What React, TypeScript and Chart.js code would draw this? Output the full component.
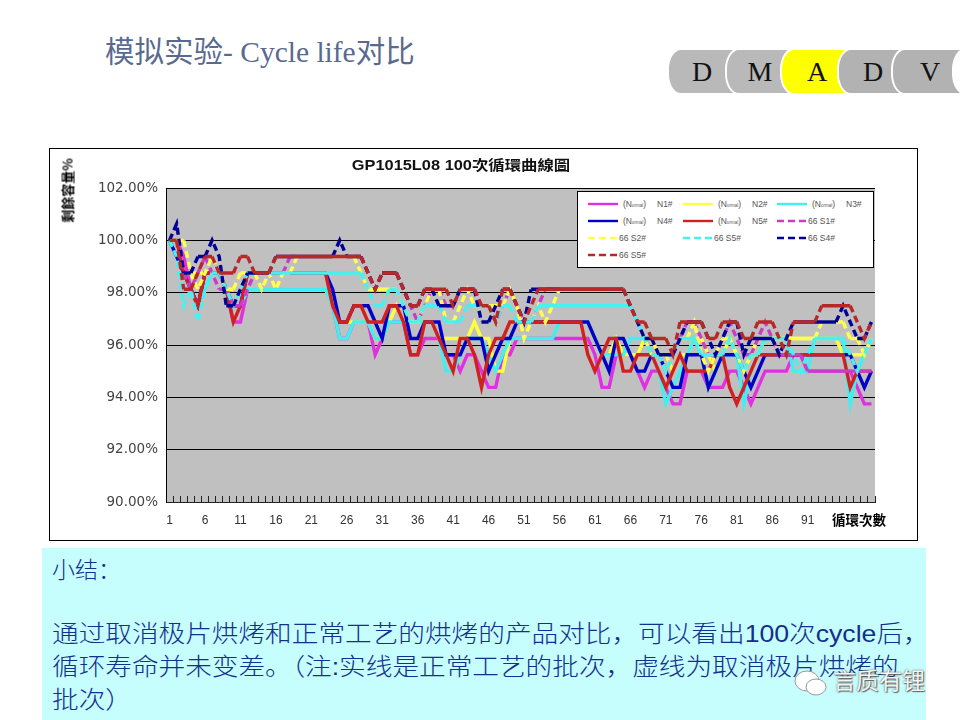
import { useEffect, useRef } from "react";
import { Chart, registerables } from "chart.js";

Chart.register(...registerables);

const cycles = Array.from({ length: 100 }, (_, i) => String(i + 1));
const yTicks = [90, 92, 94, 96, 98, 100, 102];

const n1 = [
  100, 100, 99.38, 98.13, 97.5, 98.75, 98.75, 98.75, 98.13, 96.88,
  96.88, 98.13, 98.13, 98.13, 98.13, 98.13, 98.13, 98.13, 98.13, 98.13,
  98.13, 98.13, 98.13, 97.5, 96.25, 96.25, 96.88, 96.88, 96.88, 95.63,
  96.25, 96.88, 96.88, 96.88, 95.63, 95.63, 96.25, 96.25, 96.25, 95.63,
  95.63, 95, 95.63, 95.63, 95, 94.38, 94.38, 95.63, 95.63, 96.25,
  96.25, 96.25, 96.25, 96.25, 96.25, 96.25, 96.25, 96.25, 96.25, 96.25,
  95.63, 94.38, 94.38, 95.63, 95.63, 95.63, 95, 94.38, 95, 95,
  94.38, 93.75, 93.75, 95, 95, 95, 94.38, 94.38, 94.38, 95,
  95, 94.38, 93.75, 94.38, 95, 95, 95, 95, 95.63, 95.63,
  95, 95, 95, 95, 95, 95, 95, 94.38, 93.75, 93.75,
];
const n2 = [
  100, 100, 98.75, 98.75, 98.75, 98.75, 98.75, 98.75, 98.13, 97.5,
  97.5, 98.13, 98.13, 98.13, 98.13, 98.13, 98.13, 98.13, 98.13, 98.13,
  98.13, 98.13, 98.13, 97.5, 96.88, 96.88, 96.88, 96.88, 96.88, 96.25,
  96.25, 96.88, 97.5, 96.88, 96.88, 96.88, 96.88, 96.88, 96.25, 96.25,
  96.25, 96.25, 96.25, 96.88, 96.25, 96.25, 95, 95, 96.25, 96.88,
  96.88, 96.88, 96.88, 96.88, 96.88, 96.88, 96.88, 96.88, 96.88, 96.88,
  96.25, 95.63, 95.63, 96.25, 95.63, 95.63, 95.63, 96.25, 96.25, 95.63,
  95.63, 95, 95.63, 95.63, 96.25, 96.25, 95.63, 95, 95.63, 96.25,
  95.63, 95, 95.63, 96.25, 96.25, 96.25, 96.25, 96.25, 96.25, 96.25,
  96.25, 96.25, 96.25, 96.25, 96.25, 95.63, 95.63, 95.63, 95.63, 96.25,
];
const n3 = [
  100, 99.38, 98.75, 98.13, 97.5, 98.13, 98.75, 98.75, 98.13, 97.5,
  97.5, 98.13, 98.13, 98.13, 98.13, 98.13, 98.13, 98.13, 98.13, 98.13,
  98.13, 98.13, 98.13, 97.5, 96.25, 96.25, 96.88, 96.88, 96.88, 96.25,
  96.25, 96.88, 96.88, 96.88, 96.88, 96.88, 96.88, 96.88, 96.25, 95,
  95, 95.63, 96.25, 96.25, 96.25, 95.63, 95, 95.63, 96.25, 96.25,
  96.25, 96.25, 96.25, 96.25, 96.25, 96.88, 96.88, 96.88, 96.88, 96.88,
  96.25, 95.63, 95.63, 95.63, 95.63, 96.25, 96.25, 96.25, 95.63, 95,
  93.75, 94.38, 95, 95.63, 96.25, 95.63, 94.38, 95, 95.63, 95.63,
  95.63, 93.75, 95, 95.63, 96.25, 96.25, 96.25, 96.25, 95, 95,
  95, 96.25, 96.25, 96.25, 96.25, 96.25, 93.75, 95, 95.63, 96.25,
];
const n4 = [
  100, 99.38, 98.75, 98.13, 97.5, 98.75, 98.75, 98.75, 98.13, 97.5,
  97.5, 98.75, 98.75, 98.75, 98.75, 98.75, 98.75, 98.75, 98.75, 98.75,
  98.75, 98.75, 98.75, 98.13, 96.88, 96.88, 97.5, 97.5, 97.5, 96.88,
  96.25, 97.5, 97.5, 97.5, 96.25, 96.25, 96.88, 96.88, 96.88, 95.63,
  95.63, 95.63, 96.25, 96.25, 96.25, 95, 95.63, 96.25, 96.25, 96.88,
  96.88, 96.88, 96.88, 96.88, 96.88, 96.88, 96.88, 96.88, 96.88, 96.88,
  96.25, 95.63, 95, 96.25, 96.25, 95.63, 95, 95, 95.63, 95.63,
  95, 94.38, 94.38, 95.63, 95.63, 95.63, 94.38, 95, 95.63, 95.63,
  95.63, 95, 94.38, 95, 95.63, 95.63, 95.63, 95.63, 95.63, 95.63,
  95.63, 95.63, 95.63, 95.63, 95.63, 95.63, 95.63, 95, 94.38, 95,
];
const n5 = [
  100, 100, 98.75, 98.13, 97.5, 98.75, 98.75, 98.75, 98.13, 96.88,
  97.5, 98.75, 98.75, 98.75, 98.75, 98.75, 98.75, 98.75, 98.75, 98.75,
  98.75, 98.75, 98.75, 97.5, 96.88, 96.88, 97.5, 97.5, 96.88, 96.88,
  96.88, 97.5, 97.5, 96.88, 95.63, 95.63, 96.88, 96.88, 96.25, 95.63,
  95, 96.25, 96.25, 95.63, 94.38, 95.63, 96.25, 96.25, 96.88, 96.88,
  96.88, 96.88, 96.88, 96.88, 96.88, 96.88, 96.88, 96.88, 96.88, 95.63,
  95, 95.63, 96.25, 96.25, 95, 95, 95.63, 95.63, 95.63, 95,
  94.38, 95, 95.63, 95, 95, 95, 95, 95.63, 95.63, 94.38,
  93.75, 94.38, 95, 95.63, 95.63, 95.63, 95.63, 95.63, 95.63, 95.63,
  95.63, 95.63, 95.63, 95.63, 95.63, 95.63, 94.38, 95, 95, 95,
];
const s1 = [
  100, 100, 98.75, 98.13, 98.75, 99.38, 98.75, 98.13, 98.13, 97.5,
  97.5, 98.13, 98.75, 98.75, 98.75, 98.75, 98.75, 99.38, 99.38, 99.38,
  99.38, 99.38, 99.38, 99.38, 99.38, 99.38, 99.38, 99.38, 98.75, 98.13,
  98.75, 98.75, 98.75, 98.13, 97.5, 96.88, 97.5, 98.13, 98.13, 97.5,
  97.5, 98.13, 98.13, 98.13, 97.5, 97.5, 96.88, 97.5, 98.13, 97.5,
  96.88, 96.88, 97.5, 98.13, 98.13, 98.13, 98.13, 98.13, 98.13, 98.13,
  98.13, 98.13, 98.13, 98.13, 98.13, 97.5, 96.88, 96.25, 95.63, 95.63,
  95, 95.63, 96.25, 96.88, 96.88, 96.25, 95.63, 95.63, 96.25, 96.88,
  96.25, 95.63, 95.63, 96.25, 96.88, 96.25, 95.63, 95.63, 95.63, 95.63,
  95, 95, 95, 95, 95, 95, 95, 95, 95, 95,
];
const s2 = [
  100, 100, 100, 98.75, 98.13, 98.75, 99.38, 98.75, 98.13, 98.13,
  98.75, 98.75, 98.75, 98.13, 98.75, 98.13, 98.75, 98.75, 99.38, 99.38,
  99.38, 99.38, 99.38, 99.38, 99.38, 99.38, 99.38, 98.75, 98.13, 98.13,
  98.13, 98.13, 98.13, 97.5, 96.88, 96.88, 97.5, 98.13, 98.13, 96.88,
  96.88, 97.5, 98.13, 97.5, 97.5, 97.5, 97.5, 97.5, 98.13, 97.5,
  96.25, 96.88, 97.5, 96.88, 97.5, 98.13, 98.13, 98.13, 98.13, 98.13,
  98.13, 98.13, 98.13, 98.13, 98.13, 97.5, 96.88, 96.25, 95.63, 95.63,
  95, 95.63, 96.25, 96.25, 96.88, 95.63, 95, 95.63, 96.25, 96.25,
  95.63, 95, 95.63, 95.63, 96.25, 96.25, 96.25, 96.25, 96.25, 96.25,
  96.25, 96.25, 96.88, 96.88, 96.88, 96.88, 96.25, 96.25, 95.63, 96.25,
];
const s3 = [
  100, 99.38, 97.5, 98.13, 96.88, 98.13, 98.75, 98.75, 98.13, 97.5,
  98.13, 98.75, 98.75, 98.75, 98.75, 98.75, 98.75, 98.75, 98.75, 98.75,
  98.75, 98.75, 98.75, 98.75, 98.75, 98.75, 98.75, 98.75, 98.13, 97.5,
  97.5, 98.13, 98.13, 97.5, 96.88, 96.88, 97.5, 97.5, 97.5, 96.88,
  96.88, 96.88, 97.5, 97.5, 97.5, 97.5, 96.88, 97.5, 97.5, 96.88,
  96.88, 96.88, 97.5, 97.5, 97.5, 97.5, 97.5, 97.5, 97.5, 97.5,
  97.5, 97.5, 97.5, 97.5, 97.5, 97.5, 96.88, 96.25, 95.63, 95.63,
  95, 95.63, 96.25, 96.25, 96.25, 95.63, 95.63, 95.63, 95.63, 96.25,
  95.63, 95, 95.63, 95.63, 96.25, 96.25, 96.25, 96.25, 95.63, 95,
  95.63, 96.25, 96.25, 96.25, 96.25, 96.25, 95.63, 95, 95.63, 96.25,
];
const s4 = [
  100, 100.63, 98.75, 98.75, 99.38, 99.38, 100, 99.38, 97.5, 97.5,
  98.13, 98.75, 98.75, 98.75, 98.75, 99.38, 99.38, 99.38, 99.38, 99.38,
  99.38, 99.38, 99.38, 99.38, 100, 99.38, 99.38, 99.38, 98.75, 98.13,
  98.75, 98.75, 98.75, 98.13, 97.5, 97.5, 98.13, 98.13, 97.5, 97.5,
  97.5, 98.13, 98.13, 98.13, 96.88, 96.88, 97.5, 98.13, 98.13, 97.5,
  96.88, 98.13, 98.13, 98.13, 98.13, 98.13, 98.13, 98.13, 98.13, 98.13,
  98.13, 98.13, 98.13, 98.13, 98.13, 97.5, 96.88, 96.25, 96.25, 95.63,
  95.63, 95.63, 96.25, 96.88, 96.88, 96.88, 96.25, 95.63, 96.25, 96.88,
  96.88, 95.63, 96.25, 96.25, 96.25, 96.25, 95.63, 96.25, 96.88, 96.88,
  96.88, 96.88, 96.88, 96.88, 96.88, 97.5, 96.88, 96.25, 96.25, 96.88,
];
const s5 = [
  100, 100, 98.13, 98.13, 98.75, 99.38, 99.38, 98.75, 98.75, 98.75,
  99.38, 99.38, 98.75, 98.75, 98.75, 99.38, 99.38, 99.38, 99.38, 99.38,
  99.38, 99.38, 99.38, 99.38, 99.38, 99.38, 99.38, 99.38, 98.75, 98.13,
  98.75, 98.75, 98.75, 98.13, 97.5, 97.5, 98.13, 98.13, 98.13, 98.13,
  97.5, 98.13, 98.13, 98.13, 97.5, 97.5, 96.88, 98.13, 98.13, 97.5,
  96.88, 97.5, 98.13, 98.13, 98.13, 98.13, 98.13, 98.13, 98.13, 98.13,
  98.13, 98.13, 98.13, 98.13, 98.13, 97.5, 96.88, 96.88, 96.25, 96.25,
  96.25, 95.63, 96.88, 96.88, 96.88, 96.88, 96.25, 96.25, 96.88, 96.88,
  96.88, 96.25, 96.25, 96.88, 96.88, 96.88, 96.25, 95.63, 96.88, 96.88,
  96.88, 96.88, 97.5, 97.5, 97.5, 97.5, 97.5, 96.88, 96.25, 96.88,
];

const seriesData = [n1, n2, n3, n4, n5, s1, s2, s3, s4, s5];
const seriesColors = ["#e030e0", "#ffff40", "#40f0f0", "#0000c8", "#d02020", "#c83cc8", "#ffff50", "#48f0f0", "#000098", "#b82828"];
const legendLabels = ["N1#", "N2#", "N3#", "N4#", "N5#", "66 S1#", "66 S2#", "66 S5#", "66 S4#", "66 S5#"];
// legend cell order in the box, left to right, top to bottom
const legendLeft = [588, 683, 777];
const legendTop = [204, 221, 238, 255];

const tabs = [
  { text: "D", left: 667, width: 66, bg: "#b9b9b9" },
  { text: "M", left: 725, width: 66, bg: "#b9b9b9" },
  { text: "A", left: 780, width: 70, bg: "#ffff00" },
  { text: "D", left: 837, width: 68, bg: "#b2b2b2" },
  { text: "V", left: 891, width: 74, bg: "#b2b2b2" },
  { text: "", left: 952, width: 40, bg: "#fff" },
];

const summaryLines = [
  { text: "小结：", top: 555, size: 23, stretch: 1 },
  { text: "通过取消极片烘烤和正常工艺的烘烤的产品对比，可以看出100次cycle后，", top: 619, size: 24, stretch: 1.11 },
  { text: "循环寿命并未变差。（注:实线是正常工艺的批次，虚线为取消极片烘烤的", top: 652, size: 24, stretch: 1.11 },
  { text: "批次）", top: 685, size: 24, stretch: 1.11 },
];

const plotBackground = {
  id: "plotBackground",
  beforeDraw(chart: Chart) {
    const { ctx, chartArea } = chart;
    ctx.save();
    ctx.fillStyle = "#c0c0c0";
    ctx.fillRect(chartArea.left, chartArea.top, chartArea.width, chartArea.height);
    ctx.restore();
  },
};

export default function App() {
  const canvasRef = useRef<HTMLCanvasElement | null>(null);

  useEffect(() => {
    if (!canvasRef.current) return;
    const chart = new Chart(canvasRef.current, {
      type: "line",
      data: {
        labels: cycles,
        datasets: seriesData.map((data, i) => ({
          label: legendLabels[i],
          data,
          borderColor: seriesColors[i],
          backgroundColor: seriesColors[i],
          borderWidth: 3.4,
          pointRadius: 0,
          tension: 0,
          // later series sit on top of earlier ones
          order: seriesData.length - i,
          // the dash restarts at every point in the original, so flat runs look solid
          segment:
            i >= 5
              ? { borderDash: (ctx: any) => (ctx.p0.parsed.y === ctx.p1.parsed.y ? [] : [7, 4]) }
              : undefined,
        })),
      },
      options: {
        animation: false,
        responsive: false,
        layout: { padding: { left: 0, right: 42, top: 39, bottom: 0 } },
        plugins: { legend: { display: false }, title: { display: false }, tooltip: { enabled: false } },
        scales: {
          x: {
            offset: true,
            afterFit: (scale: any) => {
              scale.height = 38;
            },
            grid: { offset: true, drawOnChartArea: false, color: "#222", tickLength: -6 },
            border: { color: "#222" },
            ticks: {
              autoSkip: false,
              maxRotation: 0,
              padding: 17,
              color: "#333",
              font: { family: "Liberation Sans", size: 12 },
              callback: (_v: any, index: number) => (index % 5 === 0 && index < 95 ? cycles[index] : ""),
            },
          },
          y: {
            min: yTicks[0],
            max: yTicks[yTicks.length - 1],
            afterFit: (scale: any) => {
              scale.width = 116;
            },
            afterBuildTicks: (scale: any) => {
              scale.ticks = yTicks.map((value) => ({ value }));
            },
            grid: { color: "#000", lineWidth: 1, drawTicks: false },
            border: { color: "#000" },
            ticks: {
              padding: 8,
              color: "#444",
              font: { family: "DejaVu Sans", size: 13.5 },
              callback: (v: any) => `${Number(v).toFixed(2)}%`,
            },
          },
        },
      },
      plugins: [plotBackground],
    });
    return () => chart.destroy();
  }, []);

  return (
    <div style={{ position: "fixed", left: 0, top: 0, width: 960, height: 720, overflow: "hidden", background: "#fff" }}>
      <div style={{ position: "absolute", left: 105, top: 28, fontSize: 29.5, color: "#5a6a8e", whiteSpace: "nowrap", fontFamily: "'Liberation Serif', 'Noto Sans CJK SC'" }}>
        模拟实验- Cycle life对比
      </div>

      {tabs.map((tab) => (
        <div
          key={tab.left}
          style={{
            position: "absolute",
            left: tab.left,
            top: 48,
            width: tab.width,
            height: 43,
            background: tab.bg,
            border: "2px solid #fff",
            borderRadius: "14px 0 0 14px / 21px 0 0 21px",
            textAlign: "center",
            lineHeight: "43px",
            fontSize: 28,
            color: "#111",
            fontFamily: "Liberation Serif",
          }}
        >
          {tab.text}
        </div>
      ))}

      <div style={{ position: "absolute", left: 49, top: 148, width: 867, height: 391, border: "1px solid #000", background: "#fff" }}>
        <canvas ref={canvasRef} width={867} height={391} style={{ display: "block" }} />
      </div>
      <div style={{ position: "absolute", left: 261, width: 400, top: 154, textAlign: "center", fontSize: 14, fontWeight: "bold", color: "#111", transform: "scaleX(1.17)", fontFamily: "'Liberation Sans', 'Noto Sans CJK TC'" }}>
        GP1015L08 100次循環曲線圖
      </div>
      <div style={{ position: "absolute", left: 32, top: 181, width: 70, textAlign: "center", transform: "rotate(-90deg)", fontSize: 13, fontWeight: "bold", color: "#000", fontFamily: "'Noto Sans CJK TC'", whiteSpace: "nowrap" }}>
        剩餘容量%
      </div>
      <div style={{ position: "absolute", left: 832, top: 509, fontSize: 13.5, fontWeight: "bold", color: "#000", fontFamily: "'Noto Sans CJK TC'", whiteSpace: "nowrap" }}>
        循環次數
      </div>

      <div style={{ position: "absolute", left: 577, top: 191, width: 295, height: 75, border: "1px solid #000", background: "#fff" }} />
      {legendLabels.map((label, i) => {
        const left = legendLeft[i % 3];
        const top = legendTop[Math.floor(i / 3)];
        const dashed = i >= 5;
        const textStyle = { position: "absolute" as const, top: 1, fontSize: 8.5, lineHeight: "10px", color: "#555", fontFamily: "Liberation Sans" };
        return (
          <div key={i} style={{ position: "absolute", left, top: top - 6, height: 12, whiteSpace: "nowrap" }}>
            <svg width={30} height={12} style={{ position: "absolute", left: 0, top: 0 }}>
              <line x1={0} y1={6} x2={30} y2={6} stroke={seriesColors[i]} strokeWidth={2.4} strokeDasharray={dashed ? "7 4" : undefined} />
            </svg>
            {dashed ? (
              <span style={{ ...textStyle, left: 31 }}>{label}</span>
            ) : (
              <>
                <span style={{ ...textStyle, left: 35 }}>
                  (N<span style={{ fontSize: 4.5 }}>ormal</span>)
                </span>
                <span style={{ ...textStyle, left: 69 }}>{label}</span>
              </>
            )}
          </div>
        );
      })}

      <div style={{ position: "absolute", left: 42, top: 548, width: 884, height: 172, background: "#c6fdfd" }} />
      {summaryLines.map((line) => (
        <div key={line.top} style={{ position: "absolute", left: 52, top: line.top, fontSize: line.size, lineHeight: "30px", color: "#12308c", whiteSpace: "nowrap", transform: `scaleX(${line.stretch})`, transformOrigin: "left", fontFamily: "'Liberation Sans', 'Noto Sans CJK SC'", fontWeight: 300 }}>
          {line.text}
        </div>
      ))}

      <svg width={40} height={36} style={{ position: "absolute", left: 792, top: 666 }}>
        <ellipse cx={15} cy={15} rx={12} ry={10} fill="#fff" stroke="#999" />
        <ellipse cx={24} cy={21} rx={10} ry={8} fill="#fff" stroke="#999" />
      </svg>
      <div style={{ position: "absolute", left: 833, top: 662, fontSize: 23, color: "#f4f4f4", textShadow: "0 0 2px #555, 1px 1px 1px #666", whiteSpace: "nowrap", fontFamily: "'Noto Sans CJK SC'" }}>
        言质有锂
      </div>
    </div>
  );
}
